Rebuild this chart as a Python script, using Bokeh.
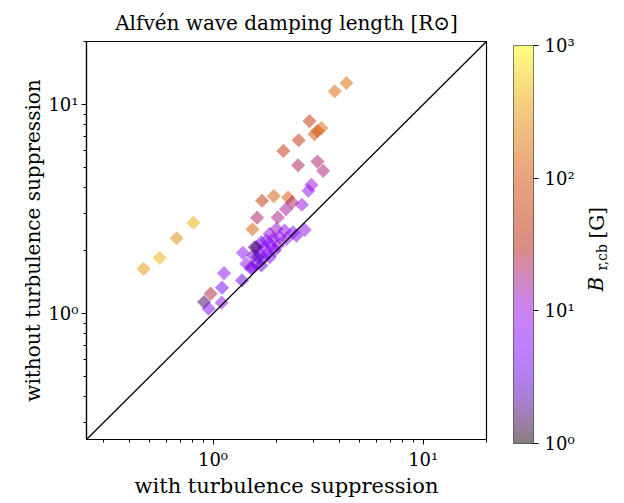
import math
from bokeh.plotting import figure
from bokeh.layouts import row
from bokeh.models import (ColumnDataSource, LogColorMapper, ColorBar, LogTicker,
                          FixedTicker, CustomJSTickFormatter, Label)
from bokeh.embed import file_html
from bokeh.resources import INLINE

# ---- data ----
with_supp = [0.467, 0.557, 0.671, 0.806, 1.128, 1.104, 0.974, 0.906, 0.953, 1.099,
             1.374, 1.387, 1.539, 1.620, 1.712, 1.944, 2.276, 2.378, 2.648, 2.222,
             2.031, 2.731, 2.161, 2.556, 2.539, 2.875, 3.040, 3.140, 3.280, 3.138,
             3.341, 2.938, 2.843, 3.793, 4.313,
             1.860, 2.002, 2.193, 2.404, 2.493, 1.794, 1.698, 1.931, 2.076, 2.234,
             1.608, 1.761, 1.895, 2.039, 1.667, 1.828, 1.965, 1.551, 1.730, 1.860,
             1.608, 1.522, 1.698, 1.578, 1.637, 1.522, 1.441]
without_supp = [1.637, 1.848, 2.291, 2.721, 1.561, 1.330, 1.245, 1.136, 1.056, 1.128,
                1.441, 1.952, 2.529, 2.875, 3.463, 3.647, 3.592, 3.400, 3.316, 3.155,
                2.884, 2.512, 5.995, 6.741, 5.123, 8.329, 7.200, 7.480, 7.700, 5.330,
                4.813, 4.128, 3.865, 11.57, 12.67,
                2.404, 2.540, 2.493, 2.447, 2.360, 2.234, 2.193, 2.276, 2.316, 2.276,
                2.076, 2.076, 2.114, 2.114, 1.931, 1.965, 2.002, 1.895, 1.828, 1.860,
                1.730, 1.667, 1.698, 2.076, 1.860, 1.637, 1.730]
b_rcb = [300, 450, 250, 400, 8, 4, 25, 1.5, 5, 9,
         3, 8, 130, 20, 45, 120, 110, 22, 10, 15,
         18, 9, 45, 45, 22, 50, 90, 110, 140, 20,
         18, 10, 9, 150, 150,
         10, 12, 9, 6, 5, 8, 4, 10, 7, 9,
         2, 8, 6, 11, 5, 9, 7, 3, 6, 4,
         5, 3, 3, 1.6, 2.5, 6, 10]
diag_line = [0.25, 20.0]
x_range = (0.25, 20.0)
y_range = (0.25, 20.0)
major_ticks = [1, 10]
minor_ticks = [0.3, 0.4, 0.5, 0.6, 0.7, 0.8, 0.9, 2, 3, 4, 5, 6, 7, 8, 9, 20]
cb_range = (1.0, 1000.0)

# gnuplot colormap (matplotlib): r=sqrt(t), g=t^3, b=sin(2*pi*t)
def gnuplot(t):
    r = math.sqrt(t)
    g = t ** 3
    b = min(max(math.sin(2 * math.pi * t), 0.0), 1.0)
    return "#%02x%02x%02x" % (round(r * 255), round(g * 255), round(b * 255))

palette = [gnuplot(i / 255) for i in range(256)]
mapper = LogColorMapper(palette=palette, low=cb_range[0], high=cb_range[1])

FONT = "DejaVu Serif"
H = 500

p = figure(x_axis_type="log", y_axis_type="log", x_range=x_range, y_range=y_range,
           frame_width=400, frame_height=398, output_backend="svg",
           toolbar_location=None, min_border_left=86, min_border_top=41,
           min_border_bottom=H - 41 - 398, min_border_right=10,
           title="Alfvén wave damping length [R⊙]")
p.title.align = "center"
p.title.text_font = FONT
p.title.text_font_size = "20px"
p.title.text_font_style = "normal"
p.title.text_color = "black"
p.title.standoff = 14
p.grid.visible = False
p.outline_line_color = "black"
p.outline_line_alpha = 1
p.outline_line_width = 1.2

sup_js = """
const sup = {'-':'\u207b','0':'\u2070','1':'\u00b9','2':'\u00b2','3':'\u00b3','4':'\u2074',
             '5':'\u2075','6':'\u2076','7':'\u2077','8':'\u2078','9':'\u2079'};
const e = Math.round(Math.log10(tick));
return '10' + String(e).split('').map(c => sup[c]).join('');
"""
fmt = CustomJSTickFormatter(code=sup_js)

for ax in (p.xaxis[0], p.yaxis[0]):
    ax.ticker = FixedTicker(ticks=major_ticks, minor_ticks=minor_ticks)
    ax.formatter = fmt
    ax.axis_line_color = "black"
    ax.axis_line_width = 1.2
    ax.major_tick_line_color = "black"
    ax.minor_tick_line_color = "black"
    ax.major_tick_out = 5
    ax.major_tick_in = 0
    ax.minor_tick_out = 3
    ax.minor_tick_in = 0
    ax.major_label_text_font = FONT
    ax.major_label_text_font_size = "18px"
    ax.major_label_text_color = "black"
    ax.axis_label_text_font = FONT
    ax.axis_label_text_font_style = "normal"
    ax.axis_label_text_color = "black"

p.xaxis.axis_label = "with turbulence suppression"
p.yaxis.axis_label = "without turbulence suppression"
p.xaxis.axis_label_text_font_size = "21px"
p.yaxis.axis_label_text_font_size = "20px"
p.xaxis.major_label_standoff = 4
p.yaxis.major_label_standoff = 3
p.xaxis.axis_label_standoff = 1
p.yaxis.axis_label_standoff = 0

src = ColumnDataSource(dict(x=with_supp, y=without_supp, b=b_rcb))
p.scatter("x", "y", source=src, marker="square", size=10, angle=math.pi / 4,
          fill_color={"field": "b", "transform": mapper}, fill_alpha=0.5,
          line_color=None)
p.line(diag_line, diag_line, line_color="black", line_width=1.3)

# ---- colour bar in its own narrow panel ----
p2 = figure(width=120, height=H, output_backend="svg", toolbar_location=None,
            x_axis_location=None, y_axis_location=None, min_border=0,
            x_range=(0, 1), y_range=(0, 1))
p2.grid.visible = False
p2.outline_line_color = None

FB = 435  # observed screen y of this panel's frame bottom
cb = ColorBar(color_mapper=mapper, ticker=LogTicker(), formatter=fmt,
              width=20, height=398, scale_alpha=0.5,
              bar_line_color="black", bar_line_width=1,
              major_tick_line_color="black", major_tick_out=5, major_tick_in=0,
              minor_tick_line_color=None, label_standoff=6,
              major_label_text_font=FONT, major_label_text_font_size="18px",
              major_label_text_color="black",
              border_line_color=None, background_fill_color=None,
              padding=0, margin=0, location=(17, FB - 439))
p2.add_layout(cb, "center")

lab_kw = dict(x_units="screen", y_units="screen", angle=math.pi / 2,
              text_align="left", text_baseline="middle", text_font=FONT,
              text_color="black")
p2.add_layout(Label(x=99, y=FB - 287, text="B", text_font_size="20px",
                    text_font_style="italic", **lab_kw))
p2.add_layout(Label(x=105, y=FB - 266, text="r,cb", text_font_size="14px", **lab_kw))
p2.add_layout(Label(x=100, y=FB - 234, text="[G]", text_font_size="20px", **lab_kw))

layout = row(p, p2)
open("out.html", "w").write(file_html(layout, INLINE))
